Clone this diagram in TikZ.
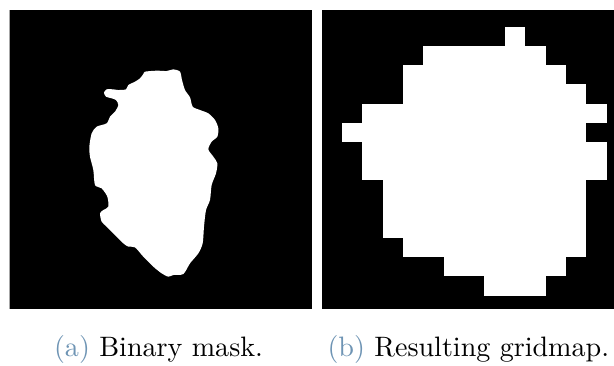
\documentclass[tikz,border=0pt]{standalone}
\usepackage{tikz}

\definecolor{capblue}{RGB}{110,148,180}

\tikzset{
    panel/.style={fill=black},
    caption/.style={anchor=base west, inner sep=0pt, font=\normalsize}
}

\begin{document}
\begin{tikzpicture}[x=0.356pt, y=-0.356pt]
        \useasboundingbox (0, 0) rectangle (614, 365);

        % left panel: the binary mask
        \fill[panel] (9, 10) rectangle (312, 309);
        \draw[gray!70, line width=0.3pt] (9.3, 10) -- (9.3, 309);
        \begin{scope}[scale=1/3]
            \fill[white] plot[smooth cycle, tension=0.45] coordinates {
                (435,215) (470,212) (500,213) (520,208) (540,215) (546,240)
                (555,270) (570,292) (578,320) (600,330) (625,340) (645,360)
                (655,385) (652,410) (635,425) (625,448) (640,470) (652,490)
                (648,520) (635,555) (630,600) (618,630) (612,680) (608,730)
                (595,760) (570,790) (550,822) (520,825) (505,830) (485,820)
                (460,800) (430,770) (405,742) (385,740) (370,730) (350,710)
                (320,680) (305,665) (300,640) (310,630) (325,620) (322,590)
                (305,565) (285,555) (280,510) (270,470) (268,440) (275,400)
                (290,380) (320,370) (330,350) (345,335) (355,315) (348,300)
                (335,295) (318,290) (312,278) (320,268) (340,268) (355,270)
                (378,268) (385,255) (405,245) (420,235) (430,222)
            };
        \end{scope}

        % right panel: the resulting gridmap
        \fill[panel] (322, 10) rectangle (614, 309);
        \begin{scope}[shift={(321.4, 7.6)}, xscale=20.38, yscale=19.2]
            \foreach \ya/\yb/\xa/\xb in {1/2/9/10, 2/3/5/11, 3/4/4/12, 4/5/4/13,
                    5/6/2/14, 6/7/1/13, 7/9/2/14, 9/12/3/13, 12/13/4/13,
                    13/14/6/12, 14/15/8/11} {
                \fill[white] (\xa, \ya) rectangle (\xb, \yb);
            }
        \end{scope}

        % subcaptions
        \node[caption] (capa) at (53.5, 356) {\textcolor{capblue}{(a)} Binary mask.};
        \node[caption] (capb) at (327, 356) {\textcolor{capblue}{(b)} Resulting gridmap.};
\end{tikzpicture}
\end{document}
